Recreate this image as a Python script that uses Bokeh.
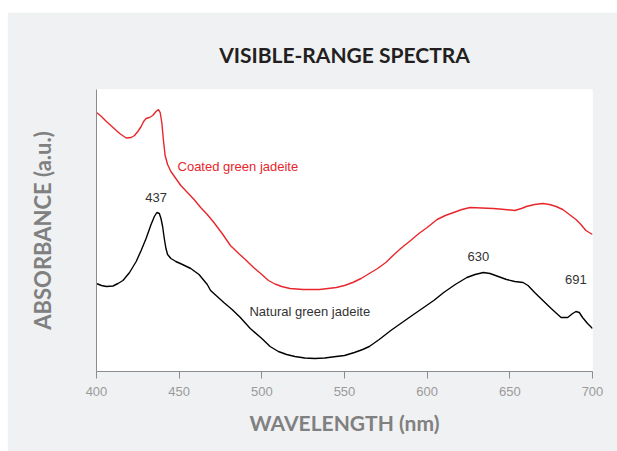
from bokeh.plotting import figure
from bokeh.models import Range1d, FixedTicker, ColumnDataSource
from bokeh.core.properties import value
from bokeh.embed import file_html
from bokeh.resources import INLINE

# ---- data (absorbance in arbitrary units) ----
coated_nm = [400, 403, 406, 410, 414, 418, 421, 423, 425, 427, 428.5, 430, 432, 434, 436,
             437.5, 438.5, 439.5, 440.5, 441.5, 443, 445, 448, 451, 455, 459, 463, 467, 471,
             476, 481, 486, 490, 495, 500, 504, 508, 512, 517, 525, 535, 545, 550, 555, 560,
             565, 570, 575, 580, 584, 590, 595, 600, 606, 611, 616, 621, 626, 633, 640, 647,
             653, 657, 660, 665, 670, 674, 678, 682, 686, 690, 693, 696, 698, 700]
coated_abs = [2.59, 2.55, 2.50, 2.44, 2.38, 2.335, 2.34, 2.36, 2.40, 2.45, 2.50, 2.53, 2.54, 2.56, 2.60,
              2.62, 2.59, 2.49, 2.31, 2.16, 2.07, 2.00, 1.93, 1.86, 1.79, 1.72, 1.64, 1.57, 1.49,
              1.38, 1.26, 1.18, 1.12, 1.04, 0.97, 0.91, 0.875, 0.85, 0.83, 0.82, 0.82, 0.84, 0.86, 0.89, 0.93,
              0.98, 1.03, 1.09, 1.17, 1.23, 1.31, 1.38, 1.44, 1.52, 1.56, 1.59, 1.62, 1.64, 1.635, 1.63, 1.62,
              1.61, 1.63, 1.65, 1.67, 1.68, 1.67, 1.65, 1.62, 1.57, 1.52, 1.47, 1.41, 1.39, 1.37]

natural_nm = [400, 403, 406, 410, 413, 416, 420, 424, 427, 430, 433, 435, 436.5, 438, 439,
              440, 441, 442, 443, 445, 448, 452, 457, 462, 467, 469, 473, 477, 482, 487,
              493, 500, 505, 510, 515, 520, 526, 532, 538, 545, 550, 556, 561, 565, 571,
              578, 584, 590, 597, 604, 610, 617, 624, 629, 634, 638, 643, 648, 653, 658,
              661, 665, 670, 675, 681, 685, 688, 690, 692, 694, 697, 700]
natural_abs = [0.88, 0.86, 0.85, 0.855, 0.88, 0.91, 0.99, 1.10, 1.21, 1.33, 1.47, 1.55, 1.59, 1.58, 1.53,
               1.45, 1.33, 1.23, 1.17, 1.13, 1.10, 1.07, 1.03, 0.97, 0.87, 0.81, 0.75, 0.69, 0.62, 0.54,
               0.43, 0.33, 0.25, 0.20, 0.17, 0.15, 0.135, 0.13, 0.135, 0.15, 0.16, 0.19, 0.22, 0.25, 0.32,
               0.41, 0.48, 0.55, 0.63, 0.71, 0.79, 0.87, 0.94, 0.97, 0.99, 0.98, 0.95, 0.92, 0.90, 0.89,
               0.86, 0.79, 0.71, 0.63, 0.54, 0.54, 0.58, 0.60, 0.59, 0.54, 0.48, 0.43]

x_ticks = [400, 450, 500, 550, 600, 650, 700]

peak_labels = ["437", "630", "691"]
peak_x = [436, 631, 690]
peak_y = [1.74, 1.15, 0.92]

series_labels = ["Coated green jadeite", "Natural green jadeite"]
series_label_x = [449, 492.5]
series_label_y = [2.05, 0.60]
series_label_colors = ["#e8262c", "#333333"]

chart_title = "VISIBLE-RANGE SPECTRA"

W, H = 610, 439
p = figure(width=W, height=H, output_backend="svg", toolbar_location=None,
           x_range=Range1d(400, 700), y_range=Range1d(0, 2.82),
           min_border_left=89, min_border_right=25, min_border_top=77, min_border_bottom=80)
p.margin = (12, 0, 0, 7)

p.background_fill_color = "white"
p.border_fill_color = "#f0f1f3"
p.outline_line_color = None
p.grid.grid_line_color = None

p.title.text = chart_title
p.title.align = "center"
p.title.text_font = "Lato"
p.title.text_font_style = "bold"
p.title.text_font_size = "21px"
p.title.text_color = "#231f20"
p.title.standoff = 45

p.line(coated_nm, coated_abs, line_color="#e8262c", line_width=1.4)
p.line(natural_nm, natural_abs, line_color="black", line_width=1.4)

src_peaks = ColumnDataSource(dict(x=peak_x, y=peak_y, t=peak_labels))
p.text(x="x", y="y", text="t", source=src_peaks, text_align="center", text_baseline="middle",
       text_font=value("Liberation Sans"), text_font_size="13px", text_color="#333333")

src_series = ColumnDataSource(dict(x=series_label_x, y=series_label_y, t=series_labels, c=series_label_colors))
p.text(x="x", y="y", text="t", source=src_series, text_align="left", text_baseline="middle",
       text_font=value("Liberation Sans"), text_font_size="13px", text_color="c")

# x axis
xa = p.xaxis[0]
xa.ticker = FixedTicker(ticks=x_ticks)
xa.minor_tick_line_color = None
xa.major_tick_in = 0
xa.major_tick_out = 7
xa.axis_line_color = "#8c8c8c"
xa.major_tick_line_color = "#8c8c8c"
xa.major_label_text_color = "#9a9a9a"
xa.major_label_text_font = "Liberation Sans"
xa.major_label_text_font_size = "13px"
xa.major_label_standoff = 8
xa.axis_label = "WAVELENGTH (nm)"
xa.axis_label_text_font = "Lato"
xa.axis_label_text_font_style = "bold"
xa.axis_label_text_font_size = "21px"
xa.axis_label_text_color = "#808080"
xa.axis_label_standoff = 11

# y axis
ya = p.yaxis[0]
ya.ticker = FixedTicker(ticks=[])
ya.minor_tick_line_color = None
ya.major_tick_line_color = None
ya.major_label_text_font_size = "0px"
ya.axis_line_color = "#8c8c8c"
ya.axis_label = "ABSORBANCE (a.u.)"
ya.axis_label_text_font = "Lato"
ya.axis_label_text_font_style = "bold"
ya.axis_label_text_font_size = "22px"
ya.axis_label_text_color = "#808080"
ya.axis_label_standoff = 41

open("out.html", "w").write(file_html(p, INLINE))
